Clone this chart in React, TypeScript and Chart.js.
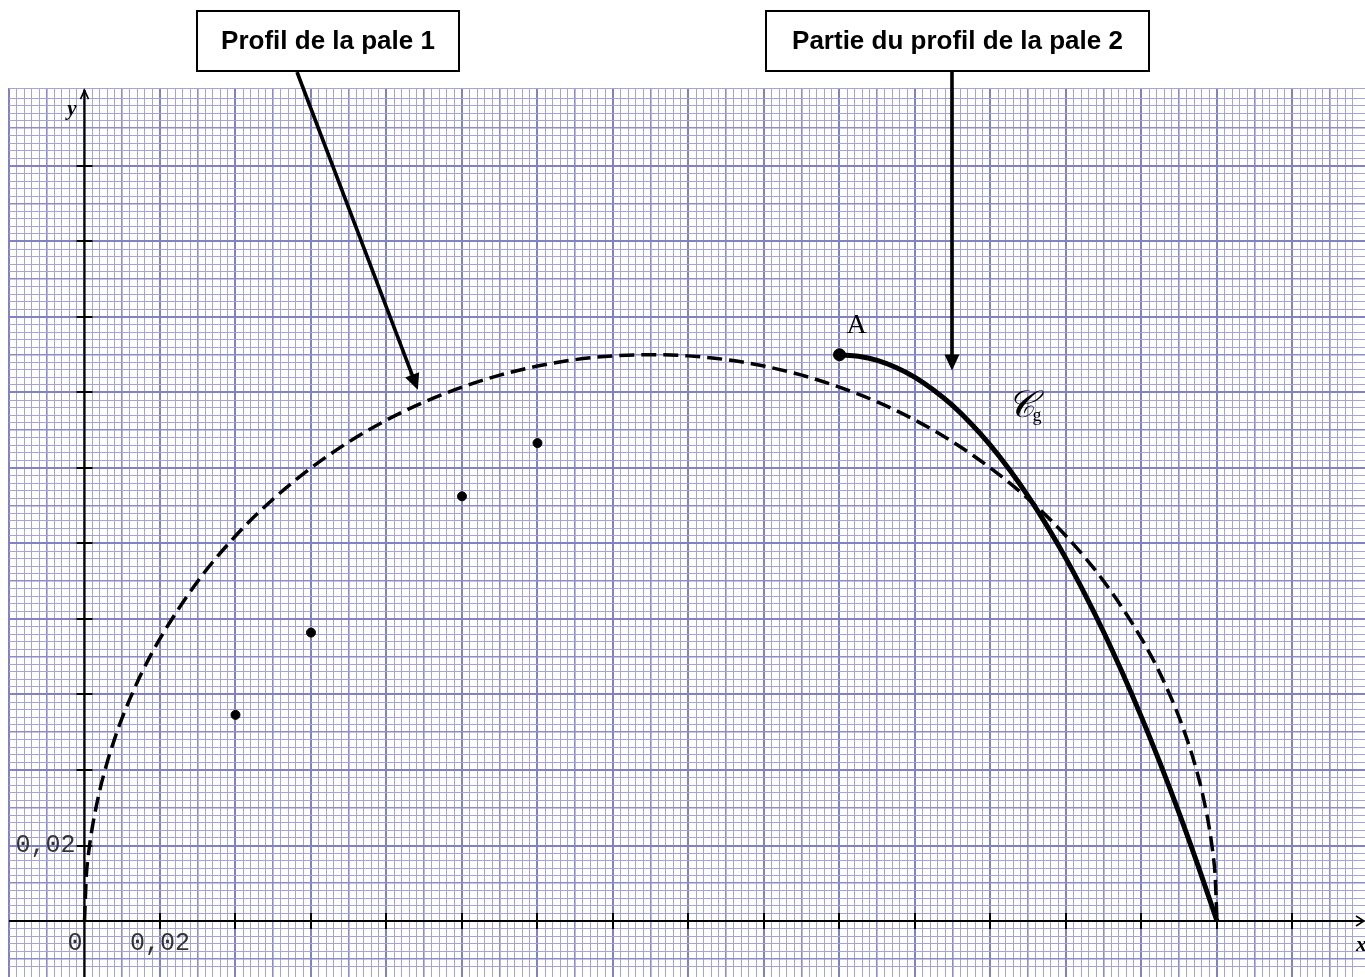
import React, { useEffect, useRef } from "react";
import { Chart, registerables } from "chart.js";

Chart.register(...registerables);

// ---- Data (units: metres) ----
// Profil de la pale 1 (dashed curve)
const pale1X = [0, 0.0005, 0.001, 0.002, 0.004, 0.006, 0.008, 0.01, 0.015, 0.02, 0.03, 0.04, 0.05, 0.06, 0.07, 0.08, 0.09, 0.1, 0.11, 0.12, 0.13, 0.14, 0.15, 0.16, 0.17, 0.18, 0.19, 0.2, 0.21, 0.22, 0.23, 0.24, 0.25, 0.26, 0.27, 0.28, 0.285, 0.29, 0.292, 0.294, 0.296, 0.298, 0.299, 0.2995, 0.3];
const pale1Y = [0, 0.0122, 0.0173, 0.0244, 0.0344, 0.042, 0.0483, 0.0539, 0.0654, 0.0748, 0.09, 0.102, 0.1118, 0.12, 0.1269, 0.1327, 0.1375, 0.1414, 0.1446, 0.147, 0.1487, 0.1497, 0.15, 0.1497, 0.1487, 0.147, 0.1446, 0.1414, 0.1375, 0.1327, 0.1269, 0.12, 0.1118, 0.102, 0.09, 0.0748, 0.0654, 0.0539, 0.0483, 0.042, 0.0344, 0.0244, 0.0173, 0.0122, 0];

// Partie du profil de la pale 2 (curve Cg, solid)
const cgX = [0.2, 0.205, 0.21, 0.215, 0.22, 0.225, 0.23, 0.235, 0.24, 0.245, 0.25, 0.255, 0.26, 0.265, 0.27, 0.275, 0.28, 0.285, 0.29, 0.295, 0.3];
const cgY = [0.15, 0.1496, 0.1485, 0.1466, 0.144, 0.1406, 0.1365, 0.1316, 0.126, 0.1196, 0.1125, 0.1046, 0.096, 0.0866, 0.0765, 0.0656, 0.054, 0.0416, 0.0285, 0.0146, 0];

// Isolated points
const dotsX = [0.04, 0.06, 0.1, 0.12];
const dotsY = [0.0546, 0.0764, 0.1125, 0.1266];

// Point A
const pointAX = [0.2];
const pointAY = [0.15];

// Axis tick marks and labels
const axisTicksX = [0.02, 0.04, 0.06, 0.08, 0.1, 0.12, 0.14, 0.16, 0.18, 0.2, 0.22, 0.24, 0.26, 0.28, 0.3, 0.32];
const axisTicksY = [0.02, 0.04, 0.06, 0.08, 0.1, 0.12, 0.14, 0.16, 0.18, 0.2];
const xLabelValues = [0.02];
const xLabelTexts = ["0,02"];
const yLabelValues = [0.02];
const yLabelTexts = ["0,02"];

// Annotation anchors (data units)
const arrow1Tip = { x: 0.0883, y: 0.1407 };
const arrow2Tip = { x: 0.2298, y: 0.1458 };
const cgLabelAt = { x: 0.2445, y: 0.1335 };
const yArrowTip = 0.2201;

const toPts = (xs: number[], ys: number[]) => xs.map((x, i) => ({ x, y: ys[i] }));

function gridColor(v: number) {
  const n = Math.round(v / 0.002);
  if (Math.abs(v / 0.002 - n) > 1e-6) return "#a4a4da";
  if (n % 10 === 0) return "#8181c6";
  if (n % 5 === 0) return "#8c8ccb";
  return "#a4a4da";
}
function gridWidth(v: number) {
  const n = Math.round(v / 0.002);
  if (Math.abs(v / 0.002 - n) > 1e-6) return 1;
  if (n % 10 === 0) return 2;
  if (n % 5 === 0) return 1.6;
  return 1;
}

function arrowHead(ctx: CanvasRenderingContext2D, fx: number, fy: number, tx: number, ty: number, len: number, half: number) {
  const a = Math.atan2(ty - fy, tx - fx);
  const bx = tx - len * Math.cos(a);
  const by = ty - len * Math.sin(a);
  ctx.beginPath();
  ctx.moveTo(tx, ty);
  ctx.lineTo(bx + half * Math.sin(a), by - half * Math.cos(a));
  ctx.lineTo(bx - half * Math.sin(a), by + half * Math.cos(a));
  ctx.closePath();
  ctx.fill();
}

const decorPlugin = {
  id: "decor",
  beforeDatasetsDraw(chart: any) {
    const ctx: CanvasRenderingContext2D = chart.ctx;
    const xs = chart.scales.x;
    const ys = chart.scales.y;
    const { left, right, bottom } = chart.chartArea;
    const x0 = xs.getPixelForValue(0);
    const y0 = ys.getPixelForValue(0);
    const yTop = ys.getPixelForValue(yArrowTip);
    ctx.save();
    ctx.strokeStyle = "#000";
    ctx.lineWidth = 2.2;
    ctx.beginPath();
    ctx.moveTo(left, y0);
    ctx.lineTo(right - 1, y0);
    ctx.moveTo(x0, bottom);
    ctx.lineTo(x0, yTop);
    ctx.stroke();
    // open arrowheads
    ctx.lineWidth = 1.6;
    ctx.beginPath();
    ctx.moveTo(x0 - 4, yTop + 9);
    ctx.lineTo(x0, yTop);
    ctx.lineTo(x0 + 4, yTop + 9);
    ctx.moveTo(right - 9, y0 - 5);
    ctx.lineTo(right - 1, y0);
    ctx.lineTo(right - 9, y0 + 5);
    ctx.stroke();
    // tick marks
    ctx.lineWidth = 2;
    ctx.beginPath();
    for (const v of axisTicksX) {
      const px = Math.round(xs.getPixelForValue(v));
      ctx.moveTo(px, y0 - 8);
      ctx.lineTo(px, y0 + 8);
    }
    for (const v of axisTicksY) {
      const py = Math.round(ys.getPixelForValue(v));
      ctx.moveTo(x0 - 8, py);
      ctx.lineTo(x0 + 8, py);
    }
    ctx.stroke();
    // tick labels
    ctx.fillStyle = "#333";
    ctx.font = "25px 'Liberation Mono', 'DejaVu Sans Mono', monospace";
    ctx.textBaseline = "middle";
    ctx.textAlign = "right";
    ctx.fillText("0", x0 - 2, y0 + 22);
    yLabelValues.forEach((v, i) => ctx.fillText(yLabelTexts[i], x0 - 9, ys.getPixelForValue(v)));
    ctx.textAlign = "center";
    xLabelValues.forEach((v, i) => ctx.fillText(xLabelTexts[i], xs.getPixelForValue(v), y0 + 22));
    // axis names
    ctx.fillStyle = "#000";
    ctx.font = "italic bold 21px 'Liberation Serif', 'DejaVu Serif', serif";
    ctx.textAlign = "right";
    ctx.fillText("y", x0 - 8, yTop + 19);
    ctx.textAlign = "left";
    ctx.fillText("x", right - 9, y0 + 25);
    ctx.restore();
  },
  afterDraw(chart: any) {
    const ctx: CanvasRenderingContext2D = chart.ctx;
    const xs = chart.scales.x;
    const ys = chart.scales.y;
    ctx.save();
    // labels A and Cg
    ctx.fillStyle = "#000";
    ctx.textBaseline = "alphabetic";
    ctx.textAlign = "left";
    ctx.font = "28px 'Liberation Serif', 'DejaVu Serif', serif";
    ctx.fillText("A", xs.getPixelForValue(pointAX[0]) + 7, ys.getPixelForValue(pointAY[0]) - 22);
    const cx = xs.getPixelForValue(cgLabelAt.x);
    const cy = ys.getPixelForValue(cgLabelAt.y);
    ctx.font = "italic 38px 'DejaVu Serif', 'Liberation Serif', serif";
    ctx.fillText("𝒞", cx, cy);
    const w = ctx.measureText("𝒞").width;
    ctx.font = "18px 'Liberation Serif', 'DejaVu Serif', serif";
    ctx.fillText("g", cx + w - 3, cy + 4);

    // boxes
    ctx.lineWidth = 2;
    ctx.strokeStyle = "#000";
    const boxes = [
      { l: 197, t: 11, r: 459, b: 71, text: "Profil de la pale 1" },
      { l: 766, t: 11, r: 1149, b: 71, text: "Partie du profil de la pale 2" },
    ];
    for (const bx of boxes) {
      ctx.fillStyle = "#fff";
      ctx.fillRect(bx.l, bx.t, bx.r - bx.l, bx.b - bx.t);
      ctx.strokeRect(bx.l, bx.t, bx.r - bx.l, bx.b - bx.t);
      ctx.fillStyle = "#000";
      ctx.font = "bold 26px 'Liberation Sans', Arial, sans-serif";
      ctx.textAlign = "center";
      ctx.textBaseline = "middle";
      ctx.fillText(bx.text, (bx.l + bx.r) / 2, (bx.t + bx.b) / 2 + 1);
    }
    // arrows
    ctx.lineWidth = 3.6;
    ctx.fillStyle = "#000";
    const t1x = xs.getPixelForValue(arrow1Tip.x);
    const t1y = ys.getPixelForValue(arrow1Tip.y);
    const s1x = 297, s1y = 72;
    const a1 = Math.atan2(t1y - s1y, t1x - s1x);
    ctx.beginPath();
    ctx.moveTo(s1x, s1y);
    ctx.lineTo(t1x - 12 * Math.cos(a1), t1y - 12 * Math.sin(a1));
    ctx.stroke();
    arrowHead(ctx, s1x, s1y, t1x, t1y, 16, 7.5);
    const t2x = xs.getPixelForValue(arrow2Tip.x);
    const t2y = ys.getPixelForValue(arrow2Tip.y);
    ctx.beginPath();
    ctx.moveTo(t2x, 72);
    ctx.lineTo(t2x, t2y - 12);
    ctx.stroke();
    arrowHead(ctx, t2x, 72, t2x, t2y, 16, 7.5);
    ctx.restore();
  },
};

export default function App() {
  const ref = useRef<HTMLCanvasElement | null>(null);
  useEffect(() => {
    document.body.style.margin = "0";
    if (!ref.current) return;
    const gridCommon = {
      color: (c: any) => gridColor(c.tick ? c.tick.value : 0),
      lineWidth: (c: any) => gridWidth(c.tick ? c.tick.value : 0),
      drawTicks: false,
      tickLength: 0,
    };
    const chart = new Chart(ref.current, {
      type: "scatter",
      data: {
        datasets: [
          {
            label: "Profil de la pale 1",
            data: toPts(pale1X, pale1Y),
            showLine: true,
            borderColor: "#000",
            borderWidth: 3.5,
            borderDash: [15, 7],
            pointRadius: 0,
            cubicInterpolationMode: "monotone",
            order: 3,
          },
          {
            label: "Cg",
            data: toPts(cgX, cgY),
            showLine: true,
            borderColor: "#000",
            borderWidth: 5,
            pointRadius: 0,
            cubicInterpolationMode: "monotone",
            order: 2,
          },
          {
            label: "A",
            data: toPts(pointAX, pointAY),
            pointRadius: 6,
            backgroundColor: "#000",
            borderColor: "#000",
            order: 1,
          },
          {
            label: "points",
            data: toPts(dotsX, dotsY),
            pointRadius: 4.5,
            backgroundColor: "#000",
            borderColor: "#000",
            order: 1,
          },
        ],
      },
      options: {
        responsive: false,
        animation: false,
        devicePixelRatio: 1,
        layout: { autoPadding: false, padding: { left: 9, top: 88, right: 0, bottom: 0 } },
        plugins: { legend: { display: false }, tooltip: { enabled: false }, title: { display: false } },
        events: [],
        scales: {
          x: {
            type: "linear",
            min: -0.02,
            max: 0.33921,
            border: { display: false },
            grid: gridCommon,
            ticks: { display: false, stepSize: 0.002, autoSkip: false, maxTicksLimit: 1000 },
            afterFit: (s: any) => { s.height = 0; },
          },
          y: {
            type: "linear",
            min: -0.014834,
            max: 0.22066,
            border: { display: false },
            grid: gridCommon,
            ticks: { display: false, stepSize: 0.002, autoSkip: false, maxTicksLimit: 1000 },
            afterFit: (s: any) => { s.width = 0; },
          },
        },
      },
      plugins: [decorPlugin],
    } as any);
    return () => chart.destroy();
  }, []);
  return (
    <div style={{ position: "absolute", left: 0, top: 0, width: 1365, height: 977, background: "#fff" }}>
      <canvas ref={ref} width={1365} height={977} style={{ display: "block" }} />
    </div>
  );
}
